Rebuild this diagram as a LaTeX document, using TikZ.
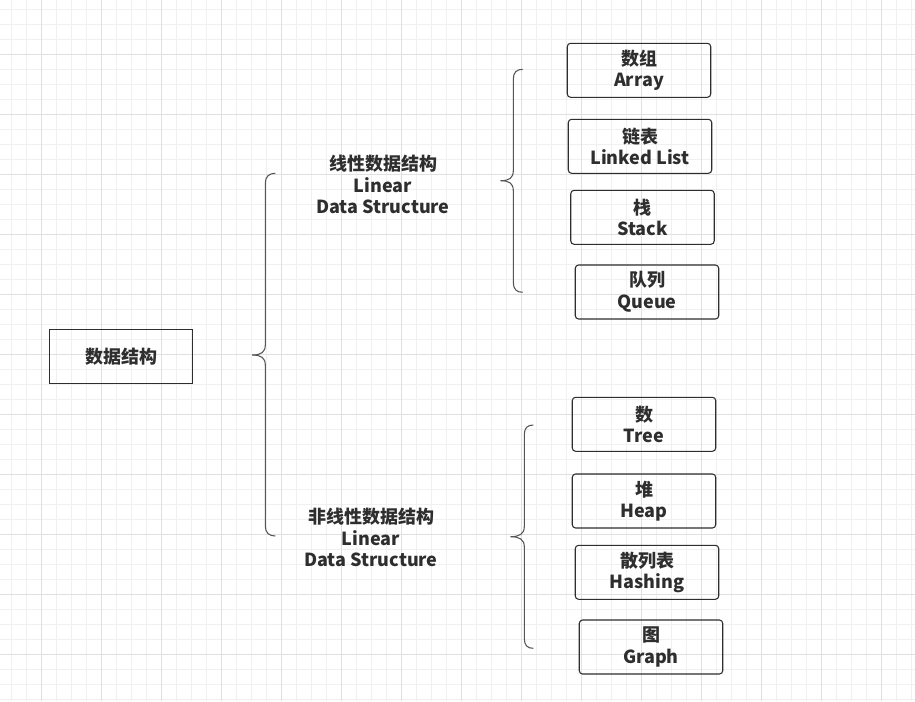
\documentclass[tikz,border=0pt]{standalone}
\usepackage{fontspec}
\setmainfont{Noto Sans CJK SC}
\usepackage{xcolor}
\usetikzlibrary{calc}

\definecolor{txtgray}{HTML}{2E2E2E}
\definecolor{bracegray}{HTML}{555555}
\definecolor{gridminor}{HTML}{F0F0F0}
\definecolor{gridmajor}{HTML}{E0E0E0}

\begin{document}
\begin{tikzpicture}[x=0.75pt,y=-0.75pt]
        \tikzstyle{txt}=[align=center,text=txtgray,inner sep=0pt,font=\bfseries\fontsize{13.5}{16.2}\selectfont]
        \tikzstyle{box}=[txt,draw=txtgray,line width=0.8pt,rounded corners=2.5pt,minimum width=107.6pt,minimum height=40.5pt]
        \tikzstyle{brace}=[draw=bracegray,line width=0.8pt]
        \useasboundingbox (0,0) rectangle (915,701);
        \fill[white] (0,0) rectangle (915,701);
        % grid
        \foreach \x in {11.7,26.7,...,915} \draw[gridminor,line width=0.75pt] (\x,0) -- (\x,701);
        \foreach \y in {9.3,24.3,...,701} \draw[gridminor,line width=0.75pt] (0,\y) -- (915,\y);
        \foreach \x in {41.7,101.7,...,915} \draw[gridmajor,line width=0.75pt] (\x,0) -- (\x,701);
        \foreach \y in {54.3,114.3,...,701} \draw[gridmajor,line width=0.75pt] (0,\y) -- (915,\y);

        \node[box,rounded corners=0pt] (1) at (121,356.3) {数据结构};
        \node[txt] (2) at (383,184.5) {线性数据结构\\Linear\\Data Structure};
        \node[txt] (3) at (371,537.5) {非线性数据结构\\Linear\\Data Structure};

        \node[box] (21) at (639,70.3) {数组\\Array};
        \node[box] (22) at (640,146.3) {链表\\Linked List};
        \node[box] (23) at (642.5,217.3) {栈\\Stack};
        \node[box] (24) at (647,292) {队列\\Queue};

        \node[box] (31) at (644,424.3) {数\\Tree};
        \node[box] (32) at (644,501) {堆\\Heap};
        \node[box] (33) at (647,572.3) {散列表\\Hashing};
        \node[box] (34) at (651,647) {图\\Graph};

        % braces
        \coordinate (b1) at (252.3,355);
        \coordinate (b2) at (500.7,180.7);
        \coordinate (b3) at (510.7,536.7);
        \draw[brace] (b1) .. controls +(9,0) and +(0,7) .. ++(13,-10) -- ++(0,-161.7) .. controls +(0,-7) and +(-6,0) .. ++(10,-10);
        \draw[brace] (b1) .. controls +(9,0) and +(0,-7) .. ++(13,10) -- ++(0,161) .. controls +(0,7) and +(-6,0) .. ++(10,10);
        \draw[brace] (b2) .. controls +(9,0) and +(0,7) .. ++(12.6,-10) -- ++(0,-91.4) .. controls +(0,-7) and +(-6,0) .. ++(9.4,-10);
        \draw[brace] (b2) .. controls +(9,0) and +(0,-7) .. ++(12.6,10) -- ++(0,91.6) .. controls +(0,7) and +(-6,0) .. ++(9.4,10);
        \draw[brace] (b3) .. controls +(9,0) and +(0,7) .. ++(13.6,-10) -- ++(0,-91.7) .. controls +(0,-7) and +(-6,0) .. ++(9,-10);
        \draw[brace] (b3) .. controls +(9,0) and +(0,-7) .. ++(13.6,10) -- ++(0,91.6) .. controls +(0,7) and +(-6,0) .. ++(9,10);
\end{tikzpicture}
\end{document}
